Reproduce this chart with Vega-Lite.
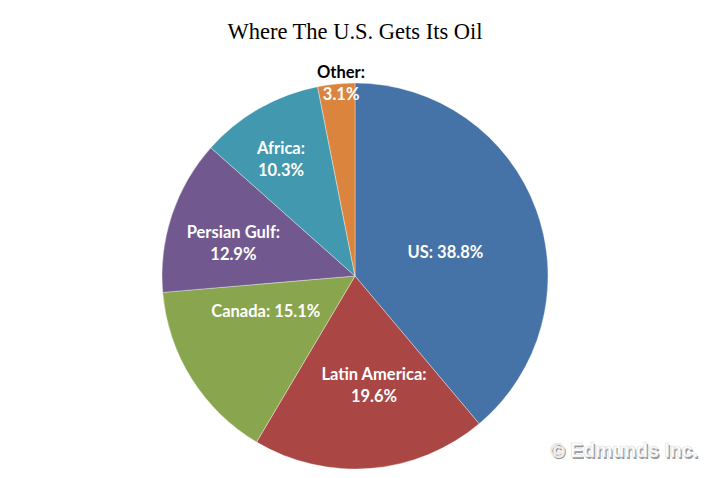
{
  "$schema": "https://vega.github.io/schema/vega-lite/v6.json",
  "width": 386,
  "height": 386,
  "autosize": "none",
  "padding": {"left": 162, "top": 83, "right": 169, "bottom": 9},
  "background": "white",
  "title": {
    "text": "Where The U.S. Gets Its Oil",
    "font": "Liberation Serif",
    "fontSize": 22.5,
    "fontWeight": "normal",
    "color": "#000000",
    "anchor": "middle",
    "offset": 21
  },
  "config": {"view": {"stroke": null}},
  "data": {
    "values": [
      {"source": "US", "share": 38.8, "order": 1, "label": "US: 38.8%", "pct": "38.8%"},
      {"source": "Latin America", "share": 19.6, "order": 2, "label": "Latin America:\n19.6%", "pct": "19.6%"},
      {"source": "Canada", "share": 15.1, "order": 3, "label": "Canada: 15.1%", "pct": "15.1%"},
      {"source": "Persian Gulf", "share": 12.9, "order": 4, "label": "Persian Gulf:\n12.9%", "pct": "12.9%"},
      {"source": "Africa", "share": 10.3, "order": 5, "label": "Africa:\n10.3%", "pct": "10.3%"},
      {"source": "Other", "share": 3.1, "order": 6, "label": "Other:", "pct": "3.1%"}
    ]
  },
  "encoding": {
    "theta": {"field": "share", "type": "quantitative", "stack": true},
    "order": {"field": "order", "type": "quantitative"}
  },
  "layer": [
    {
      "mark": {"type": "arc", "outerRadius": 193, "stroke": "#ffffff", "strokeWidth": 0.6, "strokeOpacity": 0.6},
      "encoding": {
        "color": {
          "field": "source",
          "type": "nominal",
          "legend": null,
          "scale": {
            "domain": ["US", "Latin America", "Canada", "Persian Gulf", "Africa", "Other"],
            "range": ["#4572A7", "#AA4643", "#89A54E", "#71588F", "#4198AF", "#DB843D"]
          }
        }
      }
    },
    {
      "mark": {"type": "text", "radius": 93, "dx": 3, "dy": 9, "font": "Lato", "fontWeight": "bold", "fontSize": 16.5, "color": "#ffffff", "lineBreak": "\n", "lineHeight": 22},
      "encoding": {"text": {"condition": {"test": "datum.source === 'US'", "field": "label"}, "value": ""}}
    },
    {
      "mark": {"type": "text", "radius": 110, "dx": 10, "dy": -11, "font": "Lato", "fontWeight": "bold", "fontSize": 16.5, "color": "#ffffff", "lineBreak": "\n", "lineHeight": 22},
      "encoding": {"text": {"condition": {"test": "datum.source === 'Latin America'", "field": "label"}, "value": ""}}
    },
    {
      "mark": {"type": "text", "radius": 97, "dx": -7, "dy": -16, "font": "Lato", "fontWeight": "bold", "fontSize": 16.5, "color": "#ffffff", "lineBreak": "\n", "lineHeight": 22},
      "encoding": {"text": {"condition": {"test": "datum.source === 'Canada'", "field": "label"}, "value": ""}}
    },
    {
      "mark": {"type": "text", "radius": 125, "dx": -3, "dy": -4, "font": "Lato", "fontWeight": "bold", "fontSize": 16.5, "color": "#ffffff", "lineBreak": "\n", "lineHeight": 22},
      "encoding": {"text": {"condition": {"test": "datum.source === 'Persian Gulf'", "field": "label"}, "value": ""}}
    },
    {
      "mark": {"type": "text", "radius": 135, "dx": -7, "dy": -10, "font": "Lato", "fontWeight": "bold", "fontSize": 16.5, "color": "#ffffff", "lineBreak": "\n", "lineHeight": 22},
      "encoding": {"text": {"condition": {"test": "datum.source === 'Africa'", "field": "label"}, "value": ""}}
    },
    {
      "mark": {"type": "text", "radius": 205, "dx": 6, "dy": 1, "font": "Lato", "fontWeight": "bold", "fontSize": 16.5, "color": "#000000"},
      "encoding": {"text": {"condition": {"test": "datum.source === 'Other'", "field": "label"}, "value": ""}}
    },
    {
      "mark": {"type": "text", "radius": 183, "dx": 4, "dy": 1, "font": "Lato", "fontWeight": "bold", "fontSize": 16.5, "color": "#ffffff"},
      "encoding": {"text": {"condition": {"test": "datum.source === 'Other'", "field": "pct"}, "value": ""}}
    },
    {
      "data": {"values": [{"note": "© Edmunds Inc."}]},
      "mark": {"type": "text", "font": "Liberation Sans", "fontWeight": "bold", "fontSize": 19.5, "color": "#9a9a9a", "align": "center", "baseline": "alphabetic", "dx": 1.5, "dy": 1.5},
      "encoding": {"theta": null, "order": null, "text": {"field": "note"}, "x": {"value": 462}, "y": {"value": 374}}
    },
    {
      "data": {"values": [{"note": "© Edmunds Inc."}]},
      "mark": {"type": "text", "font": "Liberation Sans", "fontWeight": "bold", "fontSize": 19.5, "color": "#ffffff", "stroke": "#dddddd", "strokeWidth": 0.6, "align": "center", "baseline": "alphabetic"},
      "encoding": {"theta": null, "order": null, "text": {"field": "note"}, "x": {"value": 462}, "y": {"value": 374}}
    }
  ]
}
